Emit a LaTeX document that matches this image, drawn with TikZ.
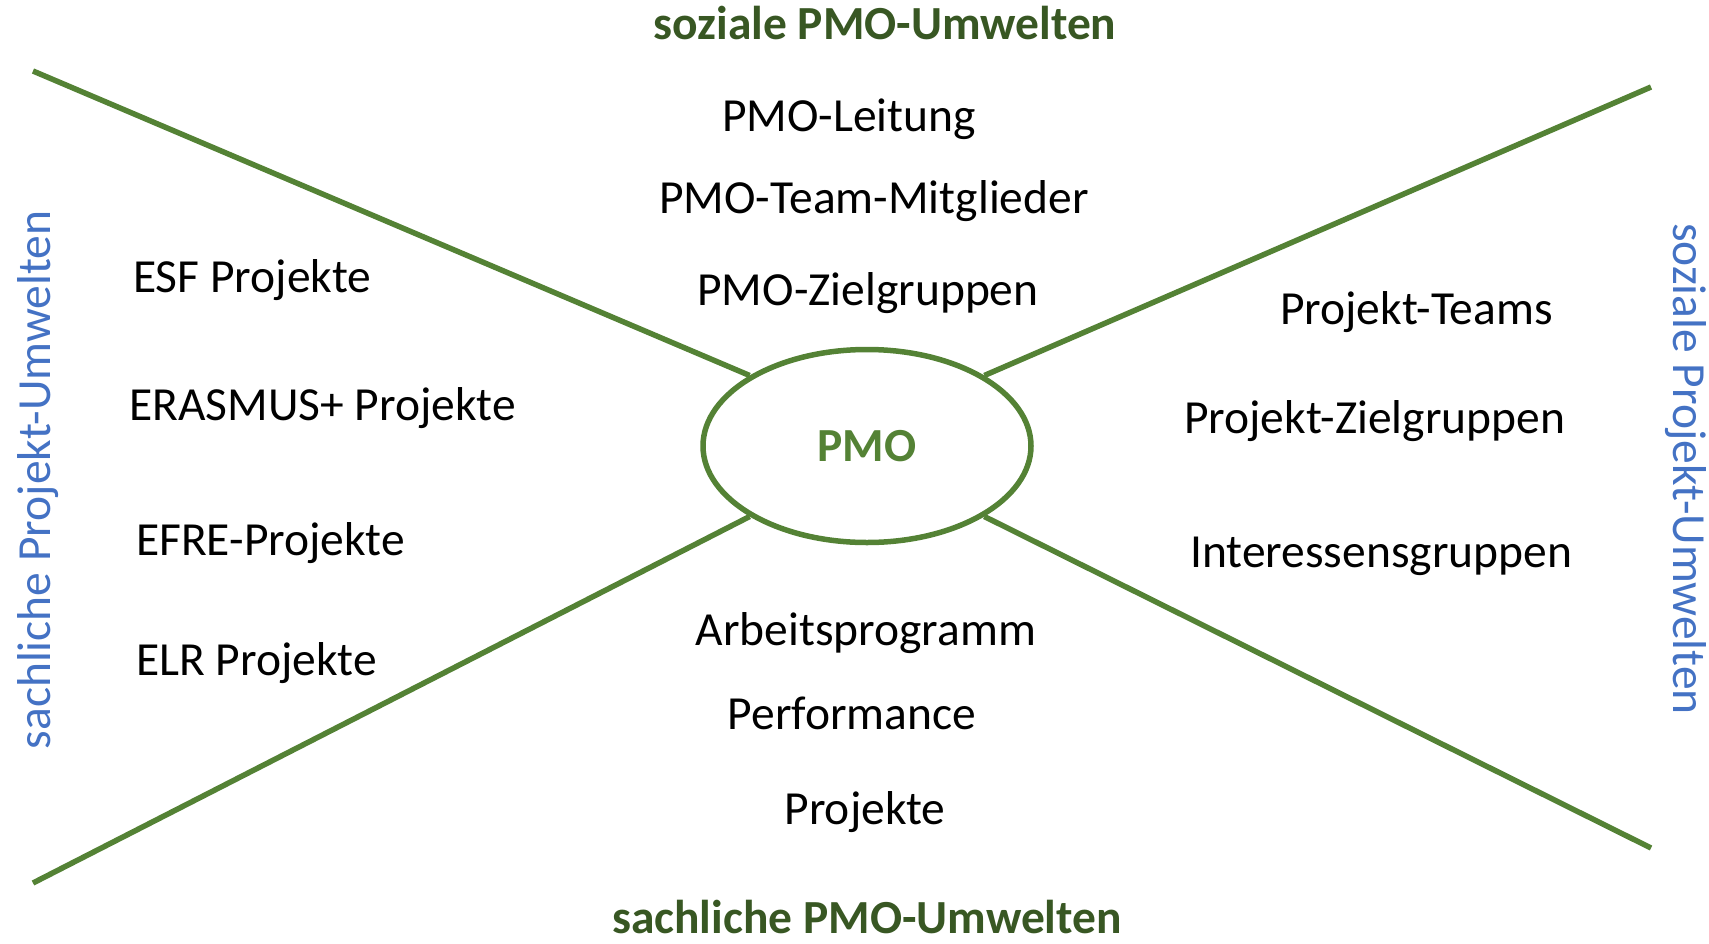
\documentclass[tikz,border=0pt]{standalone}
\usepackage{fontspec}
\setmainfont{Carlito}
\usetikzlibrary{shapes.geometric}
\definecolor{lgreen}{HTML}{548235}
\definecolor{dgreen}{HTML}{385723}
\definecolor{lblue}{HTML}{4472C4}
\tikzset{
  txt/.style={inner sep=0pt, font=\fontsize{47.5}{57}\selectfont, text=black},
  ttl/.style={txt, font=\fontsize{47.5}{57}\selectfont\bfseries, text=dgreen},
  side/.style={txt, text=lblue},
  spoke/.style={draw=lgreen, line width=5.5pt},
}
\begin{document}
\begin{tikzpicture}[x=1pt,y=-1pt]
\useasboundingbox (0,0) rectangle (1709,943);
\node[ellipse, draw=lgreen, line width=5.5pt, minimum width=328pt, minimum height=193pt, inner sep=0pt,
      font=\fontsize{47.5}{57}\selectfont\bfseries, text=lgreen] (pmo) at (867,446) {PMO};
\coordinate (tl) at (33,71);
\coordinate (tr) at (1651,87);
\coordinate (bl) at (33,883);
\coordinate (br) at (1651,848);
\draw[spoke] (tl) -- (pmo.149);
\draw[spoke] (tr) -- (pmo.31);
\draw[spoke] (bl) -- (pmo.211);
\draw[spoke] (br) -- (pmo.329);

\node[ttl, anchor=base] (t1) at (885,39) {soziale PMO-Umwelten};
\node[ttl, anchor=base] (t2) at (867,933) {sachliche PMO-Umwelten};
\node[side, anchor=base, rotate=90] (s1) at (50,480) {sachliche Projekt-Umwelten};
\node[side, anchor=base, rotate=-90] (s2) at (1673,469) {soziale Projekt-Umwelten};

\node[txt, anchor=base] (a1) at (849,131) {PMO-Leitung};
\node[txt, anchor=base] (a2) at (874,213) {PMO-Team-Mitglieder};
\node[txt, anchor=base] (a3) at (868,305) {PMO-Zielgruppen};

\node[txt, anchor=base west] (b1) at (133,292) {ESF Projekte};
\node[txt, anchor=base west] (b2) at (129,420) {ERASMUS+ Projekte};
\node[txt, anchor=base west] (b3) at (136,555) {EFRE-Projekte};
\node[txt, anchor=base west] (b4) at (136,675) {ELR Projekte};

\node[txt, anchor=base west] (c1) at (1280,324) {Projekt-Teams};
\node[txt, anchor=base west] (c2) at (1184,433) {Projekt-Zielgruppen};
\node[txt, anchor=base west] (c3) at (1190,567) {Interessensgruppen};

\node[txt, anchor=base] (d1) at (866,645) {Arbeitsprogramm};
\node[txt, anchor=base] (d2) at (852,729) {Performance};
\node[txt, anchor=base] (d3) at (865,824) {Projekte};
\end{tikzpicture}
\end{document}
